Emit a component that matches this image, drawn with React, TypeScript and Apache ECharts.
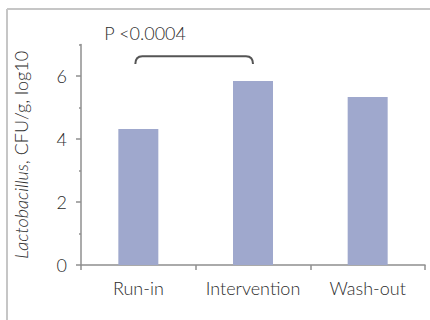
import React, { useEffect, useRef } from "react";
import * as echarts from "echarts";

const categories = ["Run-in", "Intervention", "Wash-out"];
const values = [4.32, 5.84, 5.33];
const yLabelValues = [0, 2, 4, 6];
const yMinorTickValues = [1, 3, 5, 7];
const bracketFrom = 0;
const bracketTo = 1;
const bracketTop = 6.63;
const bracketEnd = 6.38;
const pText = "P <0.0004";

const FONT = "Lato";
const TEXT = "#2c2c2c";
const AXIS = "#8f8f8f";

export default function App() {
  const ref = useRef<HTMLDivElement>(null);
  useEffect(() => {
    const chart = echarts.init(ref.current!, null, { renderer: "svg" });
    chart.setOption({
      animation: false,
      backgroundColor: "#ffffff",
      textStyle: { fontFamily: FONT, color: TEXT },
      grid: { left: 81, right: 5, top: 44.5, bottom: 55 },
      xAxis: {
        type: "category",
        data: categories,
        axisLine: { lineStyle: { color: AXIS, width: 1.5 } },
        axisTick: { show: true, alignWithLabel: false, length: 5, lineStyle: { color: AXIS, width: 1.5 } },
        axisLabel: { interval: 0, fontFamily: FONT, fontWeight: 300, fontSize: 18, color: TEXT, margin: 14 },
      },
      yAxis: [
        {
          type: "value",
          position: "left",
          min: 0,
          max: 7,
          interval: 1,
          splitLine: { show: false },
          axisLine: { show: true, lineStyle: { color: AXIS, width: 1.5 } },
          axisTick: { show: true, length: 5, customValues: yLabelValues, lineStyle: { color: AXIS, width: 1.5 } },
          axisLabel: { customValues: yLabelValues, fontFamily: FONT, fontWeight: 300, fontSize: 18, color: TEXT, margin: 14 },
          name: "{i|Lactobacillus}, CFU/g, log10",
          nameLocation: "middle",
          nameGap: 51,
          nameTextStyle: {
            fontFamily: FONT,
            fontWeight: 300,
            fontSize: 18,
            color: TEXT,
            rich: { i: { fontStyle: "italic", fontFamily: FONT, fontWeight: 300, fontSize: 18, color: TEXT } },
          },
        },
        {
          type: "value",
          position: "left",
          offset: 0,
          min: 0,
          max: 7,
          interval: 1,
          splitLine: { show: false },
          axisLine: { show: false },
          axisTick: { show: true, length: 2, customValues: yMinorTickValues, lineStyle: { color: AXIS, width: 1.5 } },
          axisLabel: { show: false },
        },
      ],
      series: [
        {
          type: "bar",
          data: values,
          barWidth: 40,
          itemStyle: { color: "#9fa8cd" },
        },
        {
          type: "custom",
          data: [[bracketFrom, bracketTo]],
          silent: true,
          renderItem: (params: any, api: any) => {
            const a = api.coord([api.value(0), bracketTop]);
            const b = api.coord([api.value(1), bracketTop]);
            const aEnd = api.coord([api.value(0), bracketEnd]);
            const r = 7;
            const x0 = a[0] - 3;
            const x1 = b[0];
            const y0 = a[1];
            const y1 = aEnd[1];
            const d = `M ${x0} ${y1} Q ${x0} ${y0} ${x0 + r} ${y0} L ${x1 - r} ${y0} Q ${x1} ${y0} ${x1} ${y1}`;
            return {
              type: "group",
              children: [
                {
                  type: "path",
                  shape: { pathData: d },
                  style: { fill: "none", stroke: "#555555", lineWidth: 2 },
                },
                {
                  type: "text",
                  x: x0 - 31,
                  y: y0 - 14,
                  style: {
                    text: pText,
                    fontFamily: FONT,
                    fontWeight: 300,
                    fontSize: 18,
                    fill: TEXT,
                    textAlign: "left",
                    textVerticalAlign: "bottom",
                  },
                },
              ],
            };
          },
        },
      ],
      graphic: [
        { type: "line", shape: { x1: 7, y1: 9, x2: 430, y2: 9 }, style: { stroke: "#c6c6c6", lineWidth: 2 } },
        { type: "line", shape: { x1: 7, y1: 9, x2: 7, y2: 320 }, style: { stroke: "#c6c6c6", lineWidth: 2 } },
      ],
    });
    return () => chart.dispose();
  }, []);
  return (
    <div
      ref={ref}
      style={{ position: "fixed", left: 0, top: 0, width: 430, height: 320 }}
    />
  );
}
